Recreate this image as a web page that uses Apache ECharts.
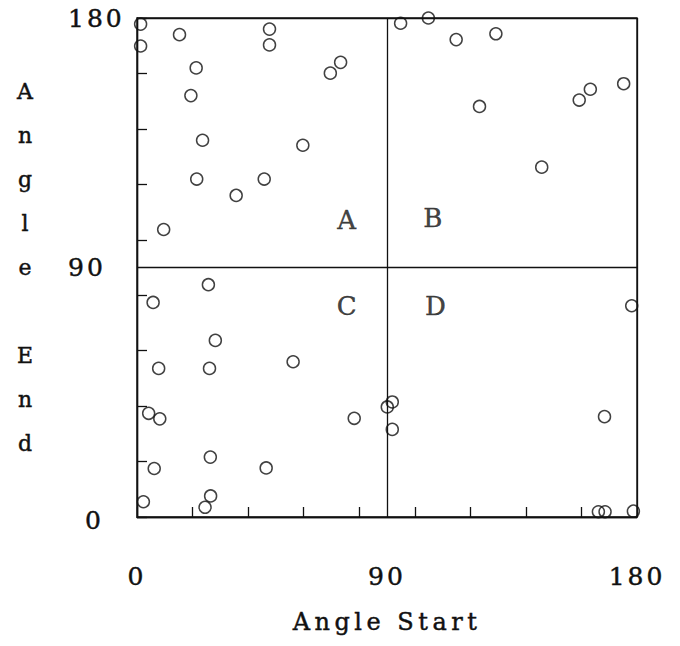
<!DOCTYPE html>
<html>
<head>
<meta charset="utf-8">
<script src="https://cdn.jsdelivr.net/npm/echarts@6/dist/echarts.min.js"></script>
<style>
  html, body { margin: 0; padding: 0; background: #fff; }
  #chart { width: 680px; height: 646px; }
  /* typewriter-like spacing for the printed labels */
  #chart text { letter-spacing: 3px; }
  #chart text[style*="24px"] { letter-spacing: 4.5px; }
  #chart text[style*="22px"] { letter-spacing: 0; }
</style>
</head>
<body>
<div id="chart"></div>
<script>
// Start and end angles (degrees) of each measured segment
const angleStart = [
  1.3, 1.3, 15.3, 47.7, 47.7, 21.3, 19.4, 73.3, 69.6, 23.6, 59.7, 21.5, 45.8, 35.7, 9.6,
  94.9, 104.9, 114.9, 129.2, 123.3, 145.7, 159.2, 163.2, 175.2,
  25.7, 5.8, 28.2, 7.8, 26.1, 56.2, 4.2, 8.2, 78.2, 90.1, 91.9, 91.9, 26.4, 6.2, 46.5, 2.3, 26.5, 24.5,
  178.1, 168.3, 166.1, 168.5, 178.7
];
const angleEnd = [
  177.8, 169.9, 174.0, 176.0, 170.3, 162.0, 152.0, 164.0, 160.1, 135.9, 134.1, 121.9, 121.9, 116.0, 103.7,
  178.1, 180.0, 172.2, 174.3, 148.1, 126.2, 150.4, 154.3, 156.3,
  83.8, 77.4, 63.7, 53.6, 53.6, 56.0, 37.4, 35.4, 35.6, 39.7, 41.5, 31.6, 21.6, 17.5, 17.7, 5.5, 7.6, 3.5,
  76.2, 36.2, 1.9, 1.9, 2.1
];

// Quadrant names and where they sit in angle space
const quadrantNames = ['A', 'B', 'C', 'D'];
const quadrantStart = [76, 107, 76, 108];
const quadrantEnd = [107, 108, 76, 76];

// Axis range and tick labels
const axisMin = 0;
const axisMax = 180;
const tickStep = 20;
const labelStep = 90;

const ink = '#111';
const font = 'DejaVu Serif';
// a thin outline in the same ink gives the heavier printed look
const heavy = { color: ink, fontFamily: font, textBorderColor: ink, textBorderWidth: 0.45 };

const points = angleStart.map((s, i) => [s, angleEnd[i]]);
const quadrants = quadrantNames.map((n, i) => ({ name: n, value: [quadrantStart[i], quadrantEnd[i]] }));

const chart = echarts.init(document.getElementById('chart'), null, { renderer: 'svg' });

const tickAxis = {
  type: 'value', min: axisMin, max: axisMax, interval: tickStep,
  axisLine: { show: true, onZero: false, lineStyle: { color: ink, width: 1.4 } },
  axisTick: { show: true, inside: true, length: 10, lineStyle: { color: ink, width: 1.3 } },
  axisLabel: { show: false },
  splitLine: { show: false }
};

chart.setOption({
  animation: false,
  backgroundColor: '#fff',
  grid: {
    left: 137, top: 18, right: 43, bottom: 129,
    show: true, borderColor: ink, borderWidth: 1.4, backgroundColor: 'transparent'
  },
  xAxis: [
    Object.assign({ position: 'bottom' }, tickAxis),
    {
      type: 'value', position: 'bottom', min: axisMin, max: axisMax, interval: labelStep,
      axisLine: { show: false }, axisTick: { show: false },
      splitLine: { show: true, lineStyle: { color: ink, width: 1.3 } },
      axisLabel: Object.assign({ show: true, margin: 47, fontSize: 25 }, heavy),
      name: 'Angle Start', nameLocation: 'middle', nameGap: 93,
      nameTextStyle: Object.assign({ fontSize: 24 }, heavy)
    }
  ],
  yAxis: [
    Object.assign({ position: 'left' }, tickAxis),
    {
      type: 'value', position: 'left', min: axisMin, max: axisMax, interval: labelStep,
      axisLine: { show: false }, axisTick: { show: false },
      splitLine: { show: true, lineStyle: { color: ink, width: 1.3 } },
      axisLabel: Object.assign({
        show: true, margin: 69, align: 'left', fontSize: 25,
        formatter: v => v === 0 ? '{z|0}' : String(v),
        rich: { z: Object.assign({ padding: [6, 0, 0, 17], fontSize: 25 }, heavy) }
      }, heavy),
      name: 'A\nn\ng\nl\ne\n\nE\nn\nd', nameLocation: 'middle', nameRotate: 0, nameGap: 112,
      nameTextStyle: Object.assign({ fontSize: 22, lineHeight: 44, align: 'center', padding: [8, 0, 0, 0] }, heavy)
    }
  ],
  series: [
    {
      type: 'scatter', xAxisIndex: 0, yAxisIndex: 0, silent: true,
      symbol: 'circle', symbolSize: 12,
      itemStyle: { color: 'rgba(0,0,0,0)', borderColor: ink, borderWidth: 1.5 },
      data: points
    },
    {
      type: 'scatter', xAxisIndex: 0, yAxisIndex: 0, silent: true,
      symbolSize: 0,
      label: Object.assign({ show: true, position: 'inside', formatter: p => p.name, fontSize: 26 }, heavy),
      data: quadrants
    }
  ]
});
</script>
</body>
</html>
